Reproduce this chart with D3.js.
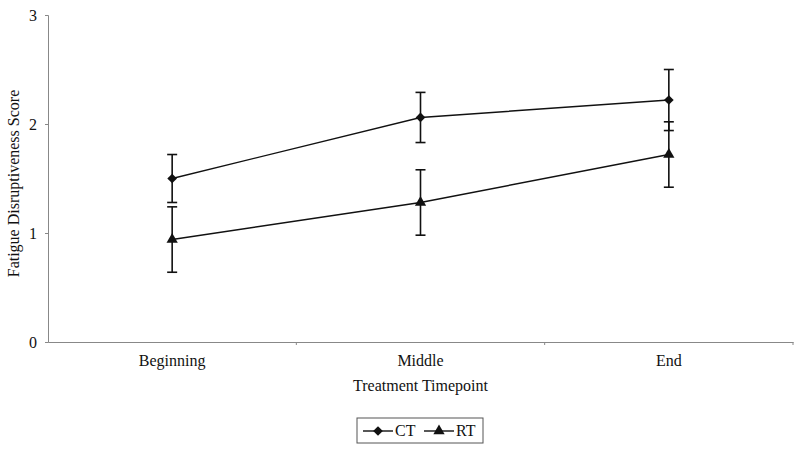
<!DOCTYPE html>
<html>
<head>
<meta charset="utf-8">
<script src="https://cdn.jsdelivr.net/npm/d3@7"></script>
<style>
  body { margin: 0; background: #fff; }
  text { font-family: "Liberation Serif", "Times New Roman", serif; fill: #111; }
</style>
</head>
<body>
<div id="wrapper"></div>
<script>
const categories = ["Beginning", "Middle", "End"];
const seriesNames = ["CT", "RT"];
const ctValues = [1.50, 2.06, 2.22];
const ctErrors = [0.22, 0.23, 0.28];
const rtValues = [0.94, 1.28, 1.72];
const rtErrors = [0.30, 0.30, 0.30];
const yTicks = [0, 1, 2, 3];

function drawChart() {
  const dimensions = {
    width: 800,
    height: 450,
    margin: { top: 15, right: 7, bottom: 108, left: 48 },
  };
  dimensions.boundedWidth =
    dimensions.width - dimensions.margin.left - dimensions.margin.right;
  dimensions.boundedHeight =
    dimensions.height - dimensions.margin.top - dimensions.margin.bottom;

  const wrapper = d3
    .select("#wrapper")
    .append("svg")
    .attr("width", dimensions.width)
    .attr("height", dimensions.height);

  const bounds = wrapper
    .append("g")
    .attr("transform", `translate(${dimensions.margin.left},${dimensions.margin.top})`);

  // scales
  const xScale = d3
    .scaleBand()
    .domain(categories)
    .range([0, dimensions.boundedWidth]);

  const yScale = d3
    .scaleLinear()
    .domain([0, 3])
    .range([dimensions.boundedHeight, 0]);

  const xPos = (c) => xScale(c) + xScale.bandwidth() / 2;

  // axes
  const yAxis = bounds
    .append("g")
    .call(d3.axisLeft(yScale).tickValues(yTicks).tickSize(3).tickFormat(d3.format("d")));
  yAxis.select(".domain").attr("stroke", "#888");
  yAxis.selectAll(".tick line").attr("stroke", "#888");
  yAxis.selectAll(".tick text")
    .attr("x", -11)
    .style("font-size", "16px")
    .style("font-family", "Liberation Serif, serif");

  const xAxis = bounds
    .append("g")
    .attr("transform", `translate(0,${dimensions.boundedHeight})`)
    .call(d3.axisBottom(xScale).tickSize(0).tickPadding(13));
  xAxis.select(".domain").attr("stroke", "#888").attr("stroke-width", 1.2);
  xAxis.selectAll(".tick text")
    .style("font-size", "16px")
    .style("font-family", "Liberation Serif, serif");

  // band boundary ticks on x axis
  bounds
    .append("g")
    .selectAll("line")
    .data(categories)
    .join("line")
    .attr("x1", (d) => xScale(d) + xScale.bandwidth())
    .attr("x2", (d) => xScale(d) + xScale.bandwidth())
    .attr("y1", dimensions.boundedHeight)
    .attr("y2", dimensions.boundedHeight + 3)
    .attr("stroke", "#888");

  // axis titles
  wrapper
    .append("text")
    .attr("x", dimensions.margin.left + xPos("Middle"))
    .attr("y", 391)
    .attr("text-anchor", "middle")
    .style("font-size", "16px")
    .text("Treatment Timepoint");

  wrapper
    .append("text")
    .attr("transform", `translate(19,${dimensions.margin.top + dimensions.boundedHeight / 2 + 5}) rotate(-90)`)
    .attr("text-anchor", "middle")
    .style("font-size", "16px")
    .text("Fatigue Disruptiveness Score");

  // data
  const series = [
    { name: "CT", values: ctValues, errors: ctErrors, symbol: d3.symbolDiamond2, size: 60 },
    { name: "RT", values: rtValues, errors: rtErrors, symbol: d3.symbolTriangle, size: 55 },
  ];

  const line = d3
    .line()
    .x((d) => xPos(d.cat))
    .y((d) => yScale(d.v));

  series.forEach((s) => {
    const pts = categories.map((c, i) => ({ cat: c, v: s.values[i], e: s.errors[i] }));
    const g = bounds.append("g");

    // error bars
    const eb = g.selectAll(".err").data(pts).join("g");
    eb.append("line")
      .attr("x1", (d) => xPos(d.cat))
      .attr("x2", (d) => xPos(d.cat))
      .attr("y1", (d) => yScale(d.v + d.e))
      .attr("y2", (d) => yScale(d.v - d.e))
      .attr("stroke", "#111")
      .attr("stroke-width", 1.6);
    [1, -1].forEach((sgn) => {
      eb.append("line")
        .attr("x1", (d) => xPos(d.cat) - 5)
        .attr("x2", (d) => xPos(d.cat) + 5)
        .attr("y1", (d) => yScale(d.v + sgn * d.e))
        .attr("y2", (d) => yScale(d.v + sgn * d.e))
        .attr("stroke", "#111")
        .attr("stroke-width", 1.6);
    });

    g.append("path")
      .datum(pts)
      .attr("d", line)
      .attr("fill", "none")
      .attr("stroke", "#111")
      .attr("stroke-width", 1.4);

    g.selectAll(".mk")
      .data(pts)
      .join("path")
      .attr("transform", (d) => `translate(${xPos(d.cat)},${yScale(d.v)})`)
      .attr("d", d3.symbol().type(s.symbol).size(s.size))
      .attr("fill", "#111");
  });

  // legend
  const legend = wrapper.append("g").attr("transform", "translate(357,418)");
  legend
    .append("rect")
    .attr("width", 126)
    .attr("height", 25)
    .attr("fill", "#fff")
    .attr("stroke", "#555")
    .attr("stroke-width", 1);

  const legendX = d3.scaleOrdinal().domain(seriesNames).range([6, 67]);
  series.forEach((s) => {
    const lg = legend.append("g").attr("transform", `translate(${legendX(s.name)},13)`);
    lg.append("line")
      .attr("x1", 0)
      .attr("x2", 30)
      .attr("stroke", "#111")
      .attr("stroke-width", 1.4);
    lg.append("path")
      .attr("transform", "translate(15,0)")
      .attr("d", d3.symbol().type(s.symbol).size(s.size))
      .attr("fill", "#111");
    lg.append("text")
      .attr("x", 32)
      .attr("y", 5)
      .style("font-size", "16px")
      .text(s.name);
  });
}
drawChart();
</script>
</body>
</html>
